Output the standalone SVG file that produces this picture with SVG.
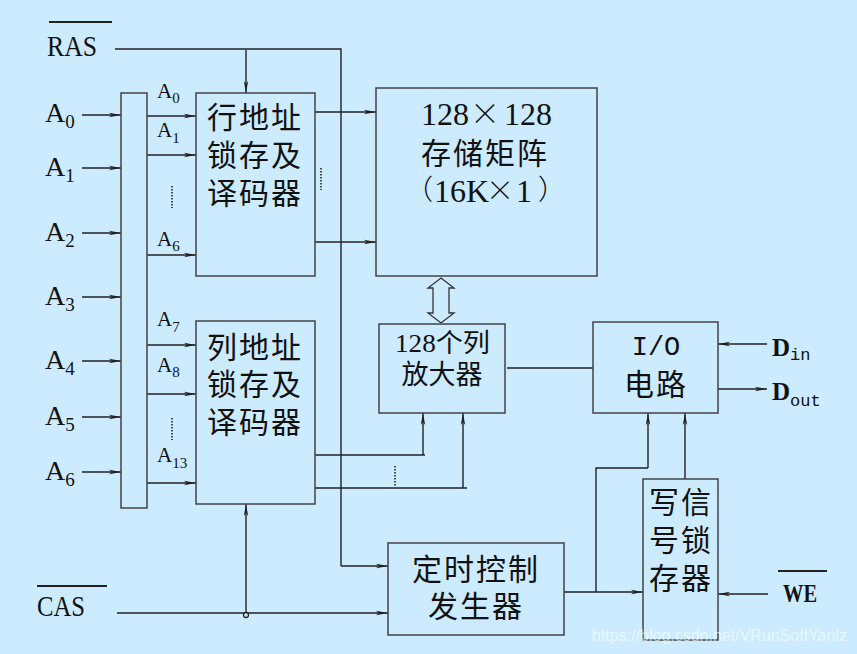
<svg xmlns="http://www.w3.org/2000/svg" width="857" height="654" viewBox="0 0 857 654">
<defs>
<marker id="ah" viewBox="0 0 12 6" refX="12" refY="3" markerWidth="12" markerHeight="6" orient="auto" markerUnits="userSpaceOnUse"><path d="M0,0.8 L12,3 L0,5.2 L3,3 Z" fill="#222"/></marker>
<style>
.bx{fill:none;stroke:#444;stroke-width:1.5}
.ln{fill:none;stroke:#222;stroke-width:1.4}
.ar{fill:none;stroke:#222;stroke-width:1.4;marker-end:url(#ah)}
.dt{fill:none;stroke:#222;stroke-width:1.6;stroke-dasharray:1.5 1.5}
.t{font-family:"Liberation Serif","Noto Sans CJK SC",serif;fill:#111}
.cj{font-family:"Liberation Serif","Noto Sans CJK SC",serif;font-size:30px;fill:#111;letter-spacing:2px}
.big{font-size:28px}
.sml{font-size:21px}
.x{font-family:"Noto Sans CJK SC",sans-serif;fill:#111;font-weight:300}
</style>
</defs>
<rect width="857" height="654" fill="#CCEBFF"/>

<g id="connectors">
<path class="ln" d="M115,49 H341 V566"/>
<path class="ar" d="M341,566 H388"/>
<path class="ar" d="M246,50 V93"/>
<path class="ar" d="M82,115 H121"/>
<path class="ar" d="M82,168 H121"/>
<path class="ar" d="M82,233 H121"/>
<path class="ar" d="M82,297 H121"/>
<path class="ar" d="M82,361 H121"/>
<path class="ar" d="M82,417 H121"/>
<path class="ar" d="M82,472 H121"/>
<path class="ar" d="M147,116 H196"/>
<path class="ar" d="M147,155 H196"/>
<path class="ar" d="M147,255 H196"/>
<path class="ar" d="M147,345 H196"/>
<path class="ar" d="M147,394 H196"/>
<path class="ar" d="M147,483 H196"/>
<path class="dt" d="M172,186 V208"/>
<path class="dt" d="M172,418 V440"/>
<path class="dt" d="M321,168 V190"/>
<path class="dt" d="M395,466 V487"/>
<path class="ar" d="M315,112 H376"/>
<path class="ar" d="M315,242 H376"/>
<path d="M441,278 L454,288 H449 V313 H454 L441,323 L428,313 H433 V288 H428 Z" fill="none" stroke="#333" stroke-width="1.3"/>
<path class="ln" d="M315,455 H425"/>
<path class="ar" d="M423,455 V413"/>
<path class="ln" d="M315,488 H467"/>
<path class="ar" d="M463,488 V413"/>
<path class="ln" d="M507,368 H593"/>
<path class="ar" d="M767,344 H718"/>
<path class="ar" d="M718,389 H767"/>
<path class="ar" d="M564,592 H643"/>
<path class="ln" d="M596,592 V468 H648"/>
<path class="ar" d="M648,468 V413"/>
<path class="ar" d="M685,479 V413"/>
<path class="ar" d="M768,594 H718"/>
<path class="ar" d="M117,613 H388"/>
<path class="ar" d="M246,613 V504"/>
<circle cx="246" cy="615" r="2.5" fill="#CCEBFF" stroke="#222" stroke-width="1.3"/>
</g>

<g id="ras">
<line x1="49" y1="22" x2="112" y2="22" stroke="#222" stroke-width="2"/>
<text class="t" x="47" y="56" font-size="30" textLength="50" lengthAdjust="spacingAndGlyphs">RAS</text>
</g>
<g id="cas">
<line x1="37" y1="586" x2="107" y2="586" stroke="#222" stroke-width="2"/>
<text class="t" x="37" y="616" font-size="30" textLength="48" lengthAdjust="spacingAndGlyphs">CAS</text>
</g>
<g id="we">
<line x1="778" y1="571" x2="827" y2="571" stroke="#222" stroke-width="2"/>
<text class="t" x="783" y="602" font-size="25" font-weight="bold" textLength="34" lengthAdjust="spacingAndGlyphs">WE</text>
</g>

<g id="inputs" class="t">
<text x="45" y="122" class="big">A<tspan font-size="19" dy="6">0</tspan></text>
<text x="45" y="176" class="big">A<tspan font-size="19" dy="6">1</tspan></text>
<text x="45" y="241" class="big">A<tspan font-size="19" dy="6">2</tspan></text>
<text x="45" y="305" class="big">A<tspan font-size="19" dy="6">3</tspan></text>
<text x="45" y="369" class="big">A<tspan font-size="19" dy="6">4</tspan></text>
<text x="45" y="425" class="big">A<tspan font-size="19" dy="6">5</tspan></text>
<text x="45" y="480" class="big">A<tspan font-size="19" dy="6">6</tspan></text>
</g>

<g id="bus">
<rect class="bx" x="121" y="93" width="26" height="415"/>
</g>

<g id="buslabels" class="t">
<text x="157" y="98" class="sml">A<tspan font-size="15" dy="5">0</tspan></text>
<text x="157" y="137" class="sml">A<tspan font-size="15" dy="6">1</tspan></text>
<text x="157" y="246" class="sml">A<tspan font-size="15" dy="5">6</tspan></text>
<text x="157" y="326" class="sml">A<tspan font-size="15" dy="6">7</tspan></text>
<text x="157" y="372" class="sml">A<tspan font-size="15" dy="5">8</tspan></text>
<text x="157" y="462" class="sml">A<tspan font-size="15" dy="6">13</tspan></text>
</g>

<g id="row-decoder">
<rect class="bx" x="196" y="93" width="119" height="183"/>
<text class="cj" x="207" y="128">行地址</text>
<text class="cj" x="207" y="166">锁存及</text>
<text class="cj" x="207" y="204">译码器</text>
</g>

<g id="col-decoder">
<rect class="bx" x="196" y="321" width="119" height="183"/>
<text class="cj" x="207" y="358">列地址</text>
<text class="cj" x="207" y="395">锁存及</text>
<text class="cj" x="207" y="433">译码器</text>
</g>

<g id="matrix">
<rect class="bx" x="376" y="88" width="221" height="188"/>
<text class="t" x="421" y="125" font-size="32">128</text>
<text class="x" x="470" y="124" font-size="30">×</text>
<text class="t" x="504" y="125" font-size="32">128</text>
<text class="cj" x="421" y="164" letter-spacing="3">存储矩阵</text>
<text class="x" x="405" y="200" font-size="28">（</text>
<text class="t" x="434" y="202" font-size="32">16K</text>
<text class="x" x="486" y="201" font-size="28">×</text>
<text class="t" x="516" y="202" font-size="32">1</text>
<text class="x" x="538" y="200" font-size="28">）</text>
</g>

<g id="amplifier">
<rect class="bx" x="379" y="324" width="126" height="89"/>
<text class="t" x="395" y="352" font-size="26" textLength="95" lengthAdjust="spacingAndGlyphs">128个列</text>
<text class="t" x="442" y="384" font-size="27" text-anchor="middle">放大器</text>
</g>

<g id="io">
<rect class="bx" x="593" y="322" width="125" height="91"/>
<text x="656" y="355" font-family="Liberation Mono, monospace" font-size="27" fill="#111" text-anchor="middle">I/O</text>
<text class="cj" x="656" y="395" text-anchor="middle">电路</text>
</g>

<g id="din" class="t">
<text x="772" y="356" font-size="25" font-weight="bold">D<tspan font-family="Liberation Mono, monospace" font-size="17" font-weight="normal" dy="4">in</tspan></text>
</g>
<g id="dout" class="t">
<text x="772" y="400" font-size="25" font-weight="bold">D<tspan font-family="Liberation Mono, monospace" font-size="17" font-weight="normal" dy="6">out</tspan></text>
</g>

<g id="write-latch">
<rect class="bx" x="643" y="479" width="75" height="161"/>
<text class="cj" x="681" y="513" text-anchor="middle">写信</text>
<text class="cj" x="681" y="551" text-anchor="middle">号锁</text>
<text class="cj" x="681" y="589" text-anchor="middle">存器</text>
</g>

<g id="timing">
<rect class="bx" x="388" y="543" width="176" height="92"/>
<text class="cj" x="476" y="580" text-anchor="middle">定时控制</text>
<text class="cj" x="476" y="617" text-anchor="middle">发生器</text>
</g>

<text x="592" y="641" font-family="Liberation Sans, sans-serif" font-size="16" fill="#ffffff" fill-opacity="0.6">https://blog.csdn.net/VRunSoftYanlz</text>
</svg>
